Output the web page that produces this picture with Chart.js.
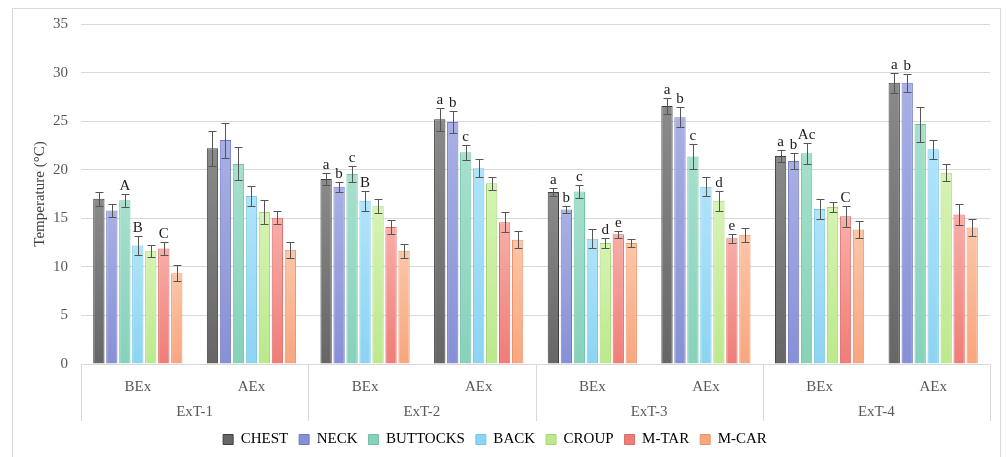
<!DOCTYPE html>
<html>
<head>
<meta charset="utf-8">
<script src="https://cdn.jsdelivr.net/npm/chart.js@4.4.1/dist/chart.umd.min.js"></script>
<style>
  html, body { margin: 0; padding: 0; background: #fff; }
  .chart-wrapper { width: 1006px; height: 457px; position: relative; }
</style>
</head>
<body>
<div class="chart-wrapper"><canvas id="chart"></canvas></div>
<script>
// categories
const phases = ['BEx', 'AEx', 'BEx', 'AEx', 'BEx', 'AEx', 'BEx', 'AEx'];
const trials = ['ExT-1', 'ExT-2', 'ExT-3', 'ExT-4'];
const seriesNames = ['CHEST', 'NECK', 'BUTTOCKS', 'BACK', 'CROUP', 'M-TAR', 'M-CAR'];

// mean temperatures (°C)
const chest = [17.0, 22.2, 19.05, 25.2, 17.7, 26.55, 21.4, 28.95];
const neck = [15.8, 23.05, 18.25, 24.9, 15.9, 25.4, 20.9, 28.95];
const buttocks = [16.85, 20.6, 19.55, 21.8, 17.75, 21.35, 21.7, 24.7];
const back = [12.2, 17.3, 16.8, 20.15, 12.9, 18.25, 15.95, 22.1];
const croup = [11.6, 15.65, 16.25, 18.6, 12.45, 16.8, 16.15, 19.7];
const mTar = [11.9, 15.05, 14.1, 14.6, 13.35, 12.95, 15.2, 15.4];
const mCar = [9.35, 11.75, 11.65, 12.8, 12.45, 13.3, 13.85, 14.05];

// standard deviations
const chestErr = [0.7, 1.8, 0.6, 1.2, 0.4, 0.8, 0.65, 1.05];
const neckErr = [0.65, 1.8, 0.5, 1.1, 0.35, 1.05, 0.85, 0.95];
const buttocksErr = [0.7, 1.7, 0.8, 0.75, 0.7, 1.3, 1.1, 1.8];
const backErr = [1.0, 1.0, 1.0, 0.95, 1.0, 0.95, 1.0, 1.0];
const croupErr = [0.6, 1.2, 0.7, 0.7, 0.5, 1.0, 0.55, 0.85];
const mTarErr = [0.65, 0.65, 0.7, 1.05, 0.35, 0.45, 1.05, 1.1];
const mCarErr = [0.85, 0.8, 0.7, 0.9, 0.45, 0.7, 0.9, 0.85];

// significance letters
const chestLetters = ['', '', 'a', 'a', 'a', 'a', 'a', 'a'];
const neckLetters = ['', '', 'b', 'b', 'b', 'b', 'b', 'b'];
const buttocksLetters = ['A', '', 'c', 'c', 'c', 'c', 'Ac', ''];
const backLetters = ['B', '', 'B', '', '', '', '', ''];
const croupLetters = ['', '', '', '', 'd', 'd', '', ''];
const mTarLetters = ['C', '', '', '', 'e', 'e', 'C', ''];
const mCarLetters = ['', '', '', '', '', '', '', ''];

// y ticks
const yMin = 0;
const yMax = 35;
const yStep = 5;

const values = [chest, neck, buttocks, back, croup, mTar, mCar];
const errors = [chestErr, neckErr, buttocksErr, backErr, croupErr, mTarErr, mCarErr];
const letters = [chestLetters, neckLetters, buttocksLetters, backLetters, croupLetters, mTarLetters, mCarLetters];

// colours: [light top, base bottom, border]
const palette = [
  ['#8a8a8a', '#666666', '#3f3f3f'],
  ['#a9b0e4', '#8790d6', '#7078c4'],
  ['#a6e0cd', '#86d2ba', '#72c2a8'],
  ['#b0e4f9', '#8cd4f3', '#78c4e4'],
  ['#d6f3b2', '#bce98c', '#a4d674'],
  ['#f8aea8', '#f07c77', '#dc6a66'],
  ['#fbc6a8', '#f8a67e', '#e89468']
];

const serif = "'Liberation Serif', 'Times New Roman', serif";

function barFill(i) {
  return (ctx) => {
    const chart = ctx.chart;
    const y = chart.scales && chart.scales.y;
    if (!chart.chartArea || !y || ctx.raw === undefined) return palette[i][1];
    const top = y.getPixelForValue(ctx.raw);
    const bottom = y.getPixelForValue(0);
    const g = chart.ctx.createLinearGradient(0, top, 0, bottom);
    g.addColorStop(0, palette[i][0]);
    g.addColorStop(1, palette[i][1]);
    return g;
  };
}

const framePlugin = {
  id: 'frame',
  beforeDraw(chart) {
    const c = chart.ctx;
    c.save();
    c.fillStyle = '#ffffff';
    c.fillRect(0, 0, chart.width, chart.height);
    c.strokeStyle = '#d9d9d9';
    c.lineWidth = 1;
    c.strokeRect(12.5, 8.5, 988, 470);
    c.restore();
  }
};

const errorBarPlugin = {
  id: 'errorBars',
  afterDatasetsDraw(chart) {
    const c = chart.ctx;
    const y = chart.scales.y;
    c.save();
    c.strokeStyle = '#555555';
    c.lineWidth = 1;
    c.fillStyle = '#1a1a1a';
    c.font = '15px ' + serif;
    c.textAlign = 'center';
    c.textBaseline = 'bottom';
    values.forEach((vals, i) => {
      const meta = chart.getDatasetMeta(i);
      meta.data.forEach((bar, j) => {
        const x = Math.round(bar.x) + 0.5;
        const yt = Math.round(y.getPixelForValue(vals[j] + errors[i][j])) + 0.5;
        const yb = Math.round(y.getPixelForValue(vals[j] - errors[i][j])) + 0.5;
        c.beginPath();
        c.moveTo(x, yt); c.lineTo(x, yb);
        c.moveTo(x - 4, yt); c.lineTo(x + 4, yt);
        c.moveTo(x - 4, yb); c.lineTo(x + 4, yb);
        c.stroke();
        if (letters[i][j]) c.fillText(letters[i][j], bar.x, yt - 1);
      });
    });
    c.restore();
  }
};

const groupAxisPlugin = {
  id: 'groupAxis',
  afterDraw(chart) {
    const c = chart.ctx;
    const x = chart.scales.x;
    const top = chart.chartArea.bottom;
    const bottom = top + 57;
    const edges = [];
    for (let g = 0; g <= trials.length; g++) {
      if (g === 0) edges.push(x.left);
      else if (g === trials.length) edges.push(x.right);
      else edges.push((x.getPixelForValue(2 * g - 1) + x.getPixelForValue(2 * g)) / 2);
    }
    c.save();
    c.strokeStyle = '#d9d9d9';
    c.lineWidth = 1;
    edges.forEach((e) => {
      const px = Math.round(e) + 0.5;
      c.beginPath();
      c.moveTo(px, top);
      c.lineTo(px, bottom);
      c.stroke();
    });
    c.fillStyle = '#595959';
    c.font = '15px ' + serif;
    c.textAlign = 'center';
    c.textBaseline = 'middle';
    trials.forEach((t, g) => {
      c.fillText(t, (edges[g] + edges[g + 1]) / 2, top + 48);
    });
    c.restore();
  }
};

new Chart(document.getElementById('chart'), {
  type: 'bar',
  data: {
    labels: phases,
    datasets: seriesNames.map((name, i) => ({
      label: name,
      data: values[i],
      backgroundColor: barFill(i),
      borderColor: palette[i][2],
      borderWidth: 1,
      categoryPercentage: 0.8,
      barPercentage: 0.87
    }))
  },
  options: {
    responsive: true,
    maintainAspectRatio: false,
    animation: false,
    layout: { padding: { left: 0, right: 16, top: 24, bottom: 0 } },
    plugins: {
      legend: {
        position: 'bottom',
        labels: {
          color: '#333333',
          font: { family: serif, size: 15 },
          boxWidth: 10,
          boxHeight: 10,
          padding: 11,
          generateLabels(chart) {
            return seriesNames.map((name, i) => ({
              text: name,
              fillStyle: palette[i][1],
              strokeStyle: palette[i][2],
              lineWidth: 1,
              datasetIndex: i,
              hidden: false
            }));
          }
        }
      },
      tooltip: { enabled: false }
    },
    scales: {
      x: {
        grid: { display: false },
        border: { display: false },
        ticks: {
          color: '#595959',
          font: { family: serif, size: 15 },
          padding: 6,
          maxRotation: 0
        },
        afterFit(scale) { scale.height = 57; }
      },
      y: {
        min: yMin,
        max: yMax,
        grid: { color: '#d9d9d9', drawTicks: false },
        border: { display: false },
        ticks: {
          stepSize: yStep,
          color: '#595959',
          font: { family: serif, size: 15 },
          padding: 13
        },
        title: {
          display: true,
          text: 'Temperature (°C)',
          color: '#404040',
          font: { family: serif, size: 15 },
          padding: { top: 31, bottom: 0 }
        },
        afterFit(scale) { scale.width = 81; }
      }
    }
  },
  plugins: [framePlugin, errorBarPlugin, groupAxisPlugin]
});
</script>
</body>
</html>
